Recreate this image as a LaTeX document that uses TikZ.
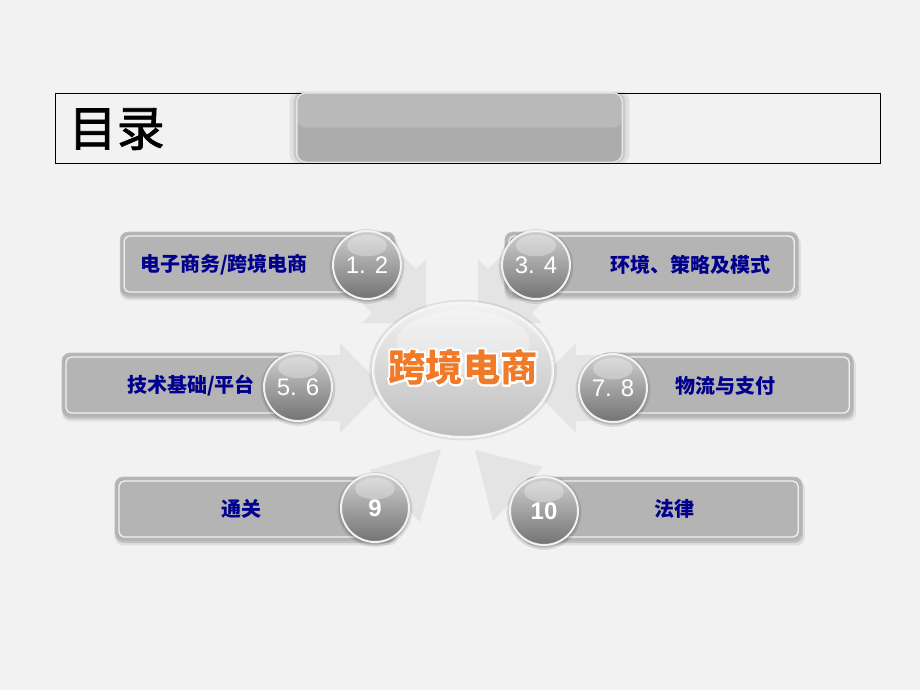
\documentclass[tikz,border=0pt]{standalone}
\usepackage{fontspec}
\setmainfont{Liberation Sans}
\newfontfamily\cjk{Noto Sans CJK SC}
\newfontfamily\cjktitle{Noto Sans CJK SC}[FakeBold=1.6]
\usetikzlibrary{shapes.geometric,shadows}
\definecolor{bgcol}{RGB}{242,242,242}
\definecolor{boxgray}{RGB}{180,180,180}
\definecolor{headlo}{RGB}{172,172,172}
\definecolor{headhi}{RGB}{185,185,185}
\definecolor{arrowgray}{RGB}{228,228,228}
\definecolor{navytext}{RGB}{0,0,140}
\definecolor{orangetext}{RGB}{240,122,40}
\definecolor{ballhi}{RGB}{208,208,208}
\definecolor{balllo}{RGB}{115,115,115}
% white stroke round the hub title
\newcommand{\strokedtext}[1]{\special{pdf:literal direct 1 Tr 3.2 w 1 j}#1\special{pdf:literal direct 0 Tr}}

\begin{document}
\begin{tikzpicture}[x=0.75pt, y=-0.75pt,
  softglow/.style={general shadow={fill=black, opacity=.07, shadow scale=1.045},
    general shadow={fill=black, opacity=.1, shadow scale=1.02}},
  itembox/.style={rounded corners=6pt, fill=boxgray, draw=black!25, line width=.5pt,
    minimum height=48pt, inner sep=0pt,
    general shadow={fill=black, opacity=.08, shadow xshift=1pt, shadow yshift=-3pt, shadow scale=1.01},
    general shadow={fill=black, opacity=.12, shadow xshift=.5pt, shadow yshift=-1.5pt},
    path picture={\draw[white!88!gray, line width=1pt, rounded corners=4pt]
      ([shift={(3pt,3pt)}]path picture bounding box.south west) rectangle
      ([shift={(-3pt,-3pt)}]path picture bounding box.north east);}},
  numball/.style={circle, minimum size=51pt, inner sep=0pt, top color=ballhi, bottom color=balllo,
    draw=white!90!gray, line width=1.5pt, text=white, font=\fontsize{18}{18}\selectfont,
    general shadow={fill=black, opacity=.1, shadow scale=1.1, shadow yshift=-1pt},
    general shadow={fill=black, opacity=.15, shadow scale=1.04, shadow yshift=-1pt},
    path picture={\fill[white, opacity=.3] ([yshift=-11pt]path picture bounding box.north)
      ellipse (15pt and 8pt);}},
  itemtext/.style={text=navytext, font=\cjk\bfseries\fontsize{15}{15}\selectfont},
  bigarrow/.style={fill=arrowgray},
  headbar/.style={rounded corners=7pt, fill=headlo, draw=white!80!gray, line width=1pt,
    minimum width=244pt, minimum height=52pt, softglow,
    path picture={\fill[headhi] (path picture bounding box.north west)
      rectangle (path picture bounding box.east);}},
  hubnode/.style={ellipse, minimum width=135pt, minimum height=101pt, inner sep=0pt,
    top color=gray!10, bottom color=gray!52, draw=white!92!gray, line width=2pt, softglow,
    path picture={\fill[white, opacity=.3] ([yshift=-30pt]path picture bounding box.north)
      ellipse (50pt and 24pt);}},
  hubtext/.style={font=\cjk\bfseries\fontsize{28}{28}\selectfont}]

% 背景
\fill[bgcol] (0,0) rectangle (920,690);
\useasboundingbox (0,0) rectangle (920,690);

% 标题
\draw[line width=.55pt] (55,93) rectangle (880,163);
\node[headbar] (bar) at (459.5,127.5) {};
\node[anchor=west, font=\cjktitle\fontsize{36}{36}\selectfont] (title) at (64,129) {目录};

% 指向中心的箭头
\fill[bigarrow] (390,243) -- (416,269) -- (426,259) -- (426,323) -- (362,323) -- (372,313) -- (346,287) -- cycle;
\fill[bigarrow] (514,243) -- (488,269) -- (478,259) -- (478,323) -- (542,323) -- (532,313) -- (558,287) -- cycle;
\fill[bigarrow] (298,355) -- (340,355) -- (340,343) -- (384,388) -- (340,433) -- (340,421) -- (298,421) -- cycle;
\fill[bigarrow] (613,355) -- (576,355) -- (576,343) -- (532,388) -- (576,433) -- (576,421) -- (613,421) -- cycle;
\fill[bigarrow] (370,470) -- (441,449) -- (420,522) -- cycle;
\fill[bigarrow] (543,467) -- (475,450) -- (493,521) -- cycle;

% 中心
\node[hubnode] (hub) at (463,370) {};
\node[hubtext, text=white] (hubring) at (463,367) {\strokedtext{跨境电商}};
\node[hubtext, text=orangetext] (hubtitle) at (463,367) {跨境电商};

% 各章节
\node[itembox, minimum width=206pt] (box1) at (257.5,264) {};
\node[itembox, minimum width=220pt] (box2) at (651.5,264) {};
\node[itembox, minimum width=186pt] (box3) at (186,385) {};
\node[itembox, minimum width=190pt] (box4) at (726.5,385) {};
\node[itembox, minimum width=210pt] (box5) at (255,509) {};
\node[itembox, minimum width=208pt] (box6) at (663.5,509) {};

\node[itemtext] (text1) at (224,265) {电子商务/跨境电商};
\node[itemtext] (text2) at (690,265) {环境、策略及模式};
\node[itemtext] (text3) at (191,386) {技术基础/平台};
\node[itemtext] (text4) at (725,386) {物流与支付};
\node[itemtext] (text5) at (241,509) {通关};
\node[itemtext] (text6) at (674,509) {法律};

\node[numball] (ball1) at (367,265) {1. 2};
\node[numball] (ball2) at (536,265) {3. 4};
\node[numball] (ball3) at (298,387) {5. 6};
\node[numball] (ball4) at (613,388) {7. 8};
\node[numball, font=\bfseries\fontsize{18}{18}\selectfont] (ball5) at (375,508) {9};
\node[numball, font=\bfseries\fontsize{18}{18}\selectfont] (ball6) at (544,511) {10};
\end{tikzpicture}
\end{document}
